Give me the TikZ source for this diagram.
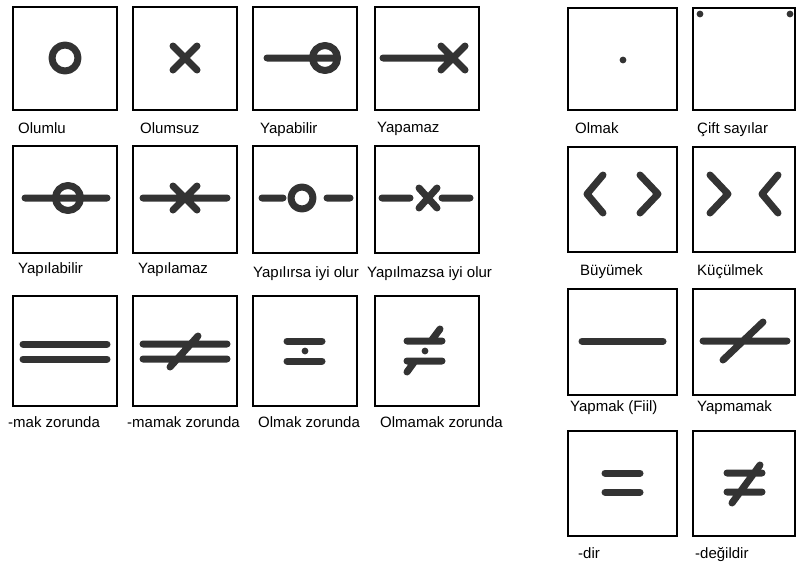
\documentclass[tikz,border=0pt]{standalone}
\usepackage{fontspec}
\setmainfont{Liberation Sans}
\definecolor{ink}{HTML}{333333}
\tikzset{
  boxframe/.style={draw=black, line width=1.6pt},
  glyph/.style={draw=ink, line width=7pt, line cap=round, line join=round},
  word/.style={anchor=base west, inner sep=0pt, font=\fontsize{15}{17}\selectfont}
}
\begin{document}
\begin{tikzpicture}[x=1pt,y=-1pt]
  \useasboundingbox (0,0) rectangle (797,562);
  % left group of boxes
  \foreach \x in {13,133,253,375}
    \foreach \y/\h in {7/103,146/107,296/110}
      \draw[boxframe] (\x,\y) rectangle ++(104,\h);
  % right group of boxes
  \foreach \x/\w in {568/109,693/102}
    \foreach \y/\h in {8/102,147/105,289/106,431/105}
      \draw[boxframe] (\x,\y) rectangle ++(\w,\h);

  % first row
  \draw[glyph] (65,58) circle (13pt);
  \draw[glyph] (173,46) -- (197,70) (173,70) -- (197,46);
  \draw[glyph] (267,58) -- (337,58) (325,58) circle (12.5pt);
  \draw[glyph] (383,58) -- (453,58) (441,46) -- (465,70) (441,70) -- (465,46);
  \node[word] (olumlu) at (18,133) {Olumlu};
  \node[word] (olumsuz) at (140,133) {Olumsuz};
  \node[word] (yapabilir) at (260,133) {Yapabilir};
  \node[word] (yapamaz) at (377,132) {Yapamaz};

  % second row
  \draw[glyph] (25,198) -- (107,198) (68,198) circle (12.5pt);
  \draw[glyph] (143,198) -- (227,198) (173,186) -- (197,210) (173,210) -- (197,186);
  \draw[glyph] (262,198) -- (283,198) (327,198) -- (350,198) (302,198) circle (11pt);
  \draw[glyph] (382,198) -- (410,198) (442,198) -- (470,198)
    (419,188) -- (437,208) (419,208) -- (437,188);
  \node[word] (yapilabilir) at (18,273) {Yapılabilir};
  \node[word] (yapilamaz) at (138,273) {Yapılamaz};
  \node[word] (yapilirsa) at (253,277) {Yapılırsa iyi olur};
  \node[word] (yapilmazsa) at (367,277) {Yapılmazsa iyi olur};

  % third row
  \draw[glyph] (23,344) -- (107,344) (23,359) -- (107,359);
  \draw[glyph] (143,344) -- (227,344) (143,359) -- (227,359) (170,367) -- (198,336);
  \draw[glyph] (287,341) -- (322,341) (287,361) -- (322,361);
  \fill[ink] (305,351) circle (3.4pt);
  \draw[glyph] (407,341) -- (442,341) (407,361) -- (442,361)
    (431,341) -- (440,329) (415,361) -- (407,372);
  \fill[ink] (425,351) circle (3.4pt);
  \node[word] (mak) at (8,427) {-mak zorunda};
  \node[word] (mamak) at (127,427) {-mamak zorunda};
  \node[word] (olmakz) at (258,427) {Olmak zorunda};
  \node[word] (olmamakz) at (380,427) {Olmamak zorunda};

  % right group
  \fill[ink] (623,60) circle (3.4pt);
  \fill[ink] (700,14) circle (3.4pt) (790,14) circle (3.4pt);
  \node[word] (olmak) at (575,133) {Olmak};
  \node[word] (cift) at (697,133) {Çift sayılar};

  \draw[glyph] (603,175) -- (587,194) -- (603,213) (640,175) -- (658,194) -- (640,213);
  \draw[glyph] (710,175) -- (728,194) -- (710,213) (778,175) -- (762,194) -- (778,213);
  \node[word] (buyumek) at (580,275) {Büyümek};
  \node[word] (kuculmek) at (697,275) {Küçülmek};

  \draw[glyph] (582,341) -- (663,341);
  \draw[glyph] (703,341) -- (787,341) (723,360) -- (763,322);
  \node[word] (yapmak) at (570,411) {Yapmak (Fiil)};
  \node[word] (yapmamak) at (697,411) {Yapmamak};

  \draw[glyph] (605,473) -- (640,473) (605,492) -- (640,492);
  \draw[glyph] (727,473) -- (762,473) (727,492) -- (762,492) (732,503) -- (760,465);
  \node[word] (dir) at (578,558) {-dir};
  \node[word] (degildir) at (695,558) {-değildir};
\end{tikzpicture}
\end{document}
